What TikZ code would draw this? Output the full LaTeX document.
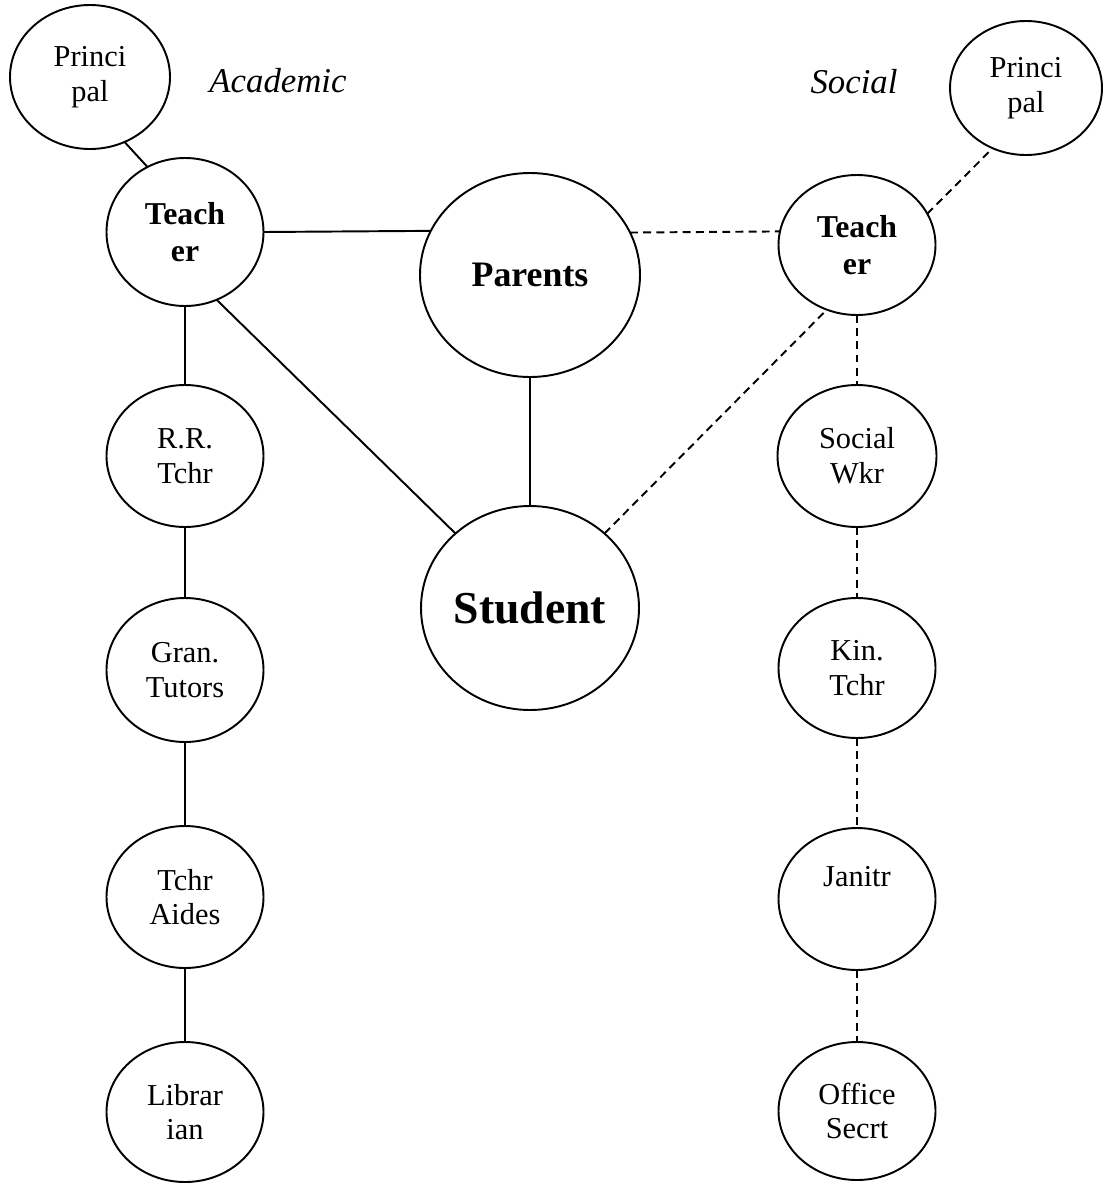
\documentclass[tikz,border=0pt]{standalone}
\usepackage{fontspec}
\setmainfont{Liberation Serif}
\usetikzlibrary{shapes.geometric}
\newcommand\pxu{0.02cm}
\tikzset{
  ell/.style={draw, ellipse, line width=1.1pt, inner sep=0pt, outer sep=0pt, align=center,
    font=\fontsize{17.3}{19.8}\selectfont},
  sz/.style 2 args={minimum width=#1*\pxu, minimum height=#2*\pxu},
  boldtxt/.style={font=\fontsize{18.1}{21}\selectfont\bfseries},
  solidc/.style={line width=1.1pt},
  dashc/.style={line width=1.1pt, dash pattern=on 4.5pt off 3pt},
  heading/.style={anchor=base, inner sep=0pt, font=\fontsize{19.8}{22}\selectfont\itshape}
}
\begin{document}
\begin{tikzpicture}[x=0.02cm, y=-0.02cm]
\useasboundingbox (0,0) rectangle (1103,1183);
% left column (Academic)
\node[ell, sz={160}{144}] (pl) at (90,77) {Princi\\pal};
\node[ell, sz={157}{148}, boldtxt] (tl) at (185,232) {Teach\\er};
\node[ell, sz={157}{142}] (rr) at (185,456) {R.R.\\Tchr};
\node[ell, sz={157}{144}] (gt) at (185,670) {Gran.\\Tutors};
\node[ell, sz={157}{142}] (ta) at (185,897) {Tchr\\Aides};
\node[ell, sz={157}{140}] (lb) at (185,1112) {Librar\\ian};
% centre
\node[ell, sz={220}{204}, font=\fontsize{20.4}{23}\selectfont\bfseries] (par) at (530,275) {Parents};
\node[ell, sz={218}{204}, font=\fontsize{26}{29}\selectfont\bfseries] (stu) at (530,608) {Student};
% right column (Social)
\node[ell, sz={152}{134}] (pr) at (1026,88) {Princi\\pal};
\node[ell, sz={157}{140}, boldtxt] (tr) at (857,245) {Teach\\er};
\node[ell, sz={159}{142}] (sw) at (857,456) {Social\\Wkr};
\node[ell, sz={157}{140}] (kt) at (857,668) {Kin.\\Tchr};
\node[ell, sz={157}{142}] (jn) at (857,899) {Janitr\\\strut};
\node[ell, sz={157}{138}] (os) at (857,1111) {Office\\Secrt};
% headings
\node[heading] (acad) at (278,92) {Academic};
\node[heading] (soc) at (854,93) {Social};
% solid connectors
\draw[solidc] (pl.-62) -- (tl.120);
\draw[solidc] (tl.east) -- (par.156.67);
\draw[solidc] (tl.-65) -- (stu.135);
\draw[solidc] (tl.south) -- (rr.north);
\draw[solidc] (rr.south) -- (gt.north);
\draw[solidc] (gt.south) -- (ta.north);
\draw[solidc] (ta.south) -- (lb.north);
\draw[solidc] (par.south) -- (stu.north);
% dashed connectors
\draw[dashc] (par.23.33) -- (tr.170.43);
\draw[dashc] (tr.24) -- (pr.241);
\draw[dashc] (stu.45) -- (tr.-115);
\draw[dashc] (tr.south) -- (sw.north);
\draw[dashc] (sw.south) -- (kt.north);
\draw[dashc] (kt.south) -- (jn.north);
\draw[dashc] (jn.south) -- (os.north);
\end{tikzpicture}
\end{document}
